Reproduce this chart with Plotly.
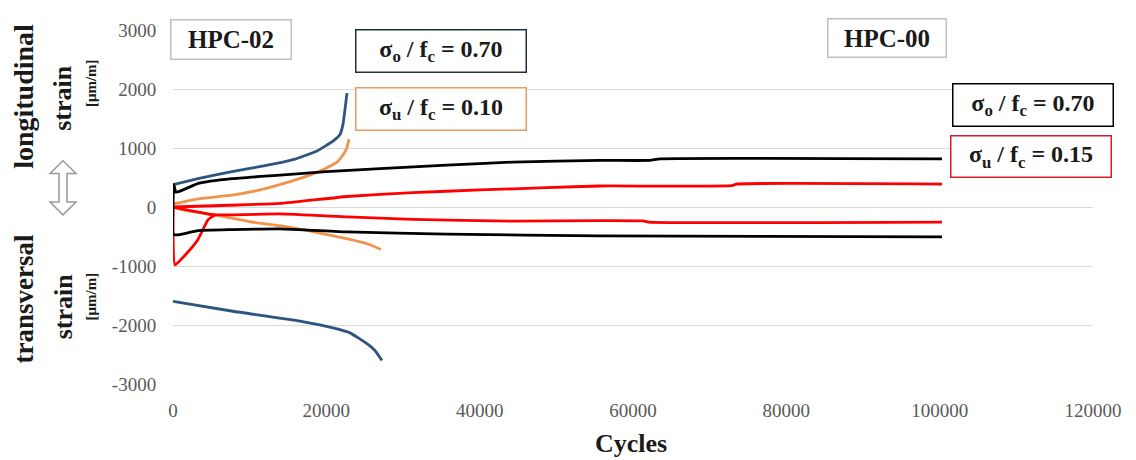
import plotly.graph_objects as go

# ---------------- data (cycles, strain in µm/m) ----------------
hpc02_o_long_x = [0, 3260, 5740, 7690, 12000, 14340, 15900, 18780, 20860, 21780, 22170, 22690]
hpc02_o_long_y = [380, 480, 550, 600, 700, 760, 810, 950, 1117, 1230, 1400, 1930]

hpc02_o_trans_x = [0, 7820, 16560, 20860, 23080, 25300, 26340, 27250]
hpc02_o_trans_y = [-1600, -1767, -1933, -2050, -2133, -2317, -2433, -2600]

hpc02_u_long_x = [0, 3520, 7690, 11340, 15260, 17860, 19820, 21390, 22170, 22690, 22950]
hpc02_u_long_y = [50, 140, 200, 290, 430, 540, 650, 760, 880, 1010, 1150]

hpc02_u_trans_x = [0, 1300, 6130, 10040, 13950, 18780, 23080, 25690, 27120]
hpc02_u_trans_y = [0, -50, -150, -250, -317, -433, -550, -640, -720]

hpc00_o_long_x = [0, 100, 400, 3300, 7700, 14000, 20000, 27000, 35700, 44300, 55700, 62200, 63500, 100300]
hpc00_o_long_y = [0, 380, 250, 400, 480, 540, 600, 650, 710, 761, 790, 790, 817, 817]

hpc00_o_trans_x = [0, 50, 900, 3260, 7690, 13950, 22690, 35730, 55680, 100300]
hpc00_o_trans_y = [0, -467, -467, -400, -383, -370, -422, -461, -489, -506]

hpc00_u_long_x = [0, 7430, 13950, 22690, 31300, 40030, 48770, 55680, 72900, 73500, 100300]
hpc00_u_long_y = [0, 30, 60, 178, 244, 289, 328, 356, 361, 389, 389]

hpc00_u_trans_x = [0, 5480, 13950, 22690, 31300, 44340, 55680, 61330, 62000, 100300]
hpc00_u_trans_y = [0, -133, -117, -167, -211, -239, -230, -235, -256, -256]

hpc00_u_dip_x = [0, 260, 1570, 3260, 4560, 5480]
hpc00_u_dip_y = [0, -983, -817, -550, -217, -133]

x_ticks = [0, 20000, 40000, 60000, 80000, 100000, 120000]
x_ticklabels = ["0", "20000", "40000", "60000", "80000", "100000", "120000"]
y_ticks = [-3000, -2000, -1000, 0, 1000, 2000, 3000]
y_ticklabels = ["-3000", "-2000", "-1000", "0", "1000", "2000", "3000"]

# ---------------- layout helpers ----------------
PAGE_W, PAGE_H = 1136, 460
OFF = 8  # default body margin of the html page
W, H = PAGE_W - OFF, PAGE_H - OFF
L, R, T, B = 173, 1093, 24, 384  # plot area in page pixels


def px(x):
    return (x - L) / (R - L)


def py(y):
    return (B - y) / (B - T)


BLUE = "#2E5482"
ORANGE = "#F0944D"
RED = "#FF0000"
BLACK = "#000000"
SERIF = "Liberation Serif"

fig = go.Figure()

series = [
    (hpc02_o_trans_x, hpc02_o_trans_y, BLUE),
    (hpc02_o_long_x, hpc02_o_long_y, BLUE),
    (hpc02_u_trans_x, hpc02_u_trans_y, ORANGE),
    (hpc02_u_long_x, hpc02_u_long_y, ORANGE),
    (hpc00_u_long_x, hpc00_u_long_y, RED),
    (hpc00_u_trans_x, hpc00_u_trans_y, RED),
    (hpc00_u_dip_x, hpc00_u_dip_y, RED),
    (hpc00_o_long_x, hpc00_o_long_y, BLACK),
    (hpc00_o_trans_x, hpc00_o_trans_y, BLACK),
]
for xs, ys, c in series:
    fig.add_trace(go.Scatter(x=xs, y=ys, mode="lines",
                             line=dict(color=c, width=2.8, shape="spline", smoothing=0.4),
                             showlegend=False, hoverinfo="skip"))

annotations = []


def box(text, x0, y0, x1, y1, border, size):
    annotations.append(dict(
        text=text, xref="paper", yref="paper", x=px(x0), y=py(y0), xanchor="left", yanchor="top",
        width=(x1 - x0) - 4, height=(y1 - y0) - 4, align="center", valign="middle",
        showarrow=False, bgcolor="white", bordercolor=border, borderwidth=1.5, borderpad=0,
        font=dict(family=SERIF, size=size, color="#1a1a1a")))


box("<b>HPC-02</b>", 170, 13, 293, 55, "#c0c0c0", 25)
box("<b>σ<sub>o</sub> / f<sub>c</sub> = 0.70</b>", 355, 23, 528, 68, "#1f2f40", 24)
box("<b>σ<sub>u</sub> / f<sub>c</sub> = 0.10</b>", 355, 82, 528, 127, "#E89A60", 24)
box("<b>HPC-00</b>", 827, 12, 948, 53, "#c0c0c0", 25)
box("<b>σ<sub>o</sub> / f<sub>c</sub> = 0.70</b>", 952, 78, 1115, 123, "#000000", 24)
box("<b>σ<sub>u</sub> / f<sub>c</sub> = 0.15</b>", 950, 131, 1113, 175, "#D0202A", 24)


def vtext(text, x, y, size):
    annotations.append(dict(
        text=text, xref="paper", yref="paper", x=px(x), y=py(y), xanchor="center", yanchor="middle",
        textangle=-90, showarrow=False, font=dict(family=SERIF, size=size, color="#1a1a1a")))


vtext("<b>longitudinal</b>", 24, 92, 28)
vtext("<b>strain</b>", 63, 93, 26)
vtext("<b>[μm/m]</b>", 91, 78, 15)
vtext("<b>transversal</b>", 24, 298, 27)
vtext("<b>strain</b>", 63, 305, 26)
vtext("<b>[μm/m]</b>", 91, 295, 15)

annotations.append(dict(
    text="<b>Cycles</b>", xref="paper", yref="paper", x=px(631), y=py(444), xanchor="center",
    yanchor="middle", showarrow=False, font=dict(family=SERIF, size=26, color="#1a1a1a")))

# hollow double arrow between the two y labels
ax, top, bot = 63, 157, 212
hw, sw, hh = 13, 4, 13
pts = [(ax, top), (ax + hw, top + hh), (ax + sw, top + hh), (ax + sw, bot - hh), (ax + hw, bot - hh),
       (ax, bot), (ax - hw, bot - hh), (ax - sw, bot - hh), (ax - sw, top + hh), (ax - hw, top + hh)]
path = "M " + " L ".join(f"{px(a):.5f},{py(b):.5f}" for a, b in pts) + " Z"
shapes = [dict(type="path", xref="paper", yref="paper", path=path, fillcolor="white",
               line=dict(color="#9a9a9a", width=1.5))]

fig.update_layout(
    width=W, height=H,
    margin=dict(l=L - OFF, r=PAGE_W - R, t=T - OFF, b=PAGE_H - B, pad=0),
    plot_bgcolor="white", paper_bgcolor="white",
    annotations=annotations, shapes=shapes,
    xaxis=dict(range=[0, 120000], tickvals=x_ticks, ticktext=x_ticklabels, showgrid=False,
               zeroline=False, showline=False, ticks="outside", ticklen=9, tickcolor="rgba(0,0,0,0)",
               tickfont=dict(family=SERIF, size=19, color="#595959")),
    yaxis=dict(range=[-3000, 3000], tickvals=y_ticks, ticktext=y_ticklabels, showgrid=True,
               gridcolor="#d9d9d9", gridwidth=1, zeroline=False, showline=False, ticks="outside",
               ticklen=12, tickcolor="rgba(0,0,0,0)",
               tickfont=dict(family=SERIF, size=19, color="#595959")),
)

fig.write_html("out.html")
